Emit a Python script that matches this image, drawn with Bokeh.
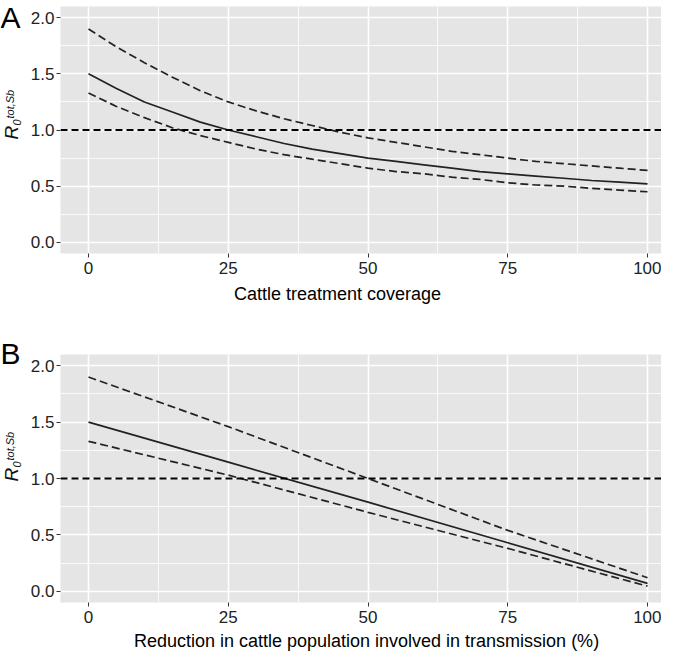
import math
from bokeh.plotting import figure
from bokeh.layouts import column, row
from bokeh.models import Range1d, FixedTicker, Span, PrintfTickFormatter
from bokeh.core.properties import value
from bokeh.embed import file_html
from bokeh.resources import INLINE

# ---------------- data ----------------
# Panel A: cattle treatment coverage
cov_x = [0, 5, 10, 15, 20, 25, 30, 35, 40, 45, 50, 55, 60, 65, 70, 75, 80, 85, 90, 95, 100]
cov_mid = [1.50, 1.37, 1.25, 1.16, 1.07, 1.00, 0.94, 0.88, 0.83, 0.79, 0.75,
           0.72, 0.69, 0.66, 0.63, 0.61, 0.59, 0.57, 0.55, 0.535, 0.52]
cov_upper = [1.90, 1.74, 1.60, 1.47, 1.35, 1.25, 1.17, 1.10, 1.04, 0.98, 0.93,
             0.89, 0.85, 0.81, 0.78, 0.75, 0.72, 0.70, 0.68, 0.66, 0.64]
cov_lower = [1.33, 1.21, 1.11, 1.02, 0.95, 0.89, 0.83, 0.78, 0.74, 0.70, 0.66,
             0.63, 0.61, 0.58, 0.56, 0.53, 0.51, 0.50, 0.48, 0.465, 0.45]

# Panel B: reduction in cattle population involved in transmission (%)
red_x = [0, 25, 50, 75, 100]
red_mid = [1.50, 1.145, 0.79, 0.43, 0.07]
red_upper = [1.90, 1.46, 1.00, 0.54, 0.12]
red_lower = [1.33, 1.03, 0.70, 0.38, 0.045]

threshold = 1.0
x_ticks = [0, 25, 50, 75, 100]
x_minor = [12.5, 37.5, 62.5, 87.5]
y_ticks = [0.0, 0.5, 1.0, 1.5, 2.0]
y_minor = [0.25, 0.75, 1.25, 1.75]

xlabel_A = "Cattle treatment coverage"
xlabel_B = "Reduction in cattle population involved in transmission (%)"

FONT = "Liberation Sans"
BG = "#E5E5E5"

W = 661          # total width
SW = 25          # left strip (panel letter + y label)
MW = W - SW      # main figure width
ML = 35          # main figure left border (tick labels)
X0, X1 = -5.01, 102.5
Y0, Y1 = -0.1, 2.1


def no_align(fig):
    if "frame_align" in fig.properties():
        fig.frame_align = False


def strip(w, h):
    s = figure(width=w, height=h, title=None, x_range=Range1d(0, w), y_range=Range1d(0, h),
               output_backend="svg", toolbar_location=None,
               x_axis_location=None, y_axis_location=None,
               min_border=0, min_border_left=0, min_border_right=0,
               min_border_top=0, min_border_bottom=0)
    s.grid.visible = False
    s.outline_line_color = None
    s.background_fill_color = "white"
    s.border_fill_color = "white"
    no_align(s)
    return s


def main_panel(height, top, frame_h, xs, mid, up, lo):
    bottom = height - top - frame_h
    p = figure(width=MW, height=height, title=None,
               x_range=Range1d(X0, X1), y_range=Range1d(Y0, Y1),
               output_backend="svg", toolbar_location=None,
               min_border_left=ML, min_border_right=0,
               min_border_top=top, min_border_bottom=bottom)
    no_align(p)
    p.background_fill_color = BG
    p.border_fill_color = "white"
    p.outline_line_color = None

    p.xgrid.ticker = FixedTicker(ticks=x_ticks, minor_ticks=x_minor)
    p.ygrid.ticker = FixedTicker(ticks=y_ticks, minor_ticks=y_minor)
    for g in (p.xgrid, p.ygrid):
        g.grid_line_color = "white"
        g.grid_line_width = 1.6
        g.minor_grid_line_color = "white"
        g.minor_grid_line_width = 0.8

    p.xaxis.ticker = FixedTicker(ticks=x_ticks)
    p.yaxis.ticker = FixedTicker(ticks=y_ticks)
    p.yaxis.formatter = PrintfTickFormatter(format="%.1f")
    for ax in (p.xaxis, p.yaxis):
        ax.axis_line_color = None
        ax.major_tick_line_color = "#333333"
        ax.major_tick_in = 0
        ax.major_tick_out = 4
        ax.minor_tick_out = 0
        ax.minor_tick_in = 0
        ax.major_label_text_font = FONT
        ax.major_label_text_font_size = "17px"
        ax.major_label_text_color = "#222222"
        ax.major_label_standoff = 2
    p.xaxis.major_label_standoff = 4

    p.add_layout(Span(location=threshold, dimension="width", line_color="black",
                      line_width=2, line_dash="7 4"))

    p.line(xs, up, line_color="#222222", line_width=1.7, line_dash="8 4")
    p.line(xs, lo, line_color="#222222", line_width=1.7, line_dash="8 4")
    p.line(xs, mid, line_color="#222222", line_width=1.7)
    return p


def left_strip(height, letter, letter_cy, r_start):
    s = strip(SW, height)
    Y = lambda py: height - py  # pixel (top-down) -> strip data
    s.text(x=[0], y=[Y(letter_cy)], text=[letter], text_font=value(FONT),
           text_font_size=value("30px"), text_color="black",
           text_align="left", text_baseline="middle")
    ang = math.pi / 2
    s.text(x=[10.5], y=[Y(r_start)], text=["R"], angle=ang, text_font=value(FONT),
           text_font_style="italic", text_font_size=value("19px"), text_color="#111111",
           text_align="left", text_baseline="middle")
    s.text(x=[16.5], y=[Y(r_start - 14)], text=["0"], angle=ang, text_font=value(FONT),
           text_font_style="italic", text_font_size=value("11px"), text_color="#111111",
           text_align="left", text_baseline="middle")
    s.text(x=[9], y=[Y(r_start - 21)], text=["tot,Sb"], angle=ang, text_font=value(FONT),
           text_font_style="italic", text_font_size=value("11px"), text_color="#111111",
           text_align="left", text_baseline="middle")
    return s


def label_strip(height, text, cx, cy):
    s = strip(W, height)
    s.text(x=[cx], y=[height - cy], text=[text], text_font=value(FONT),
           text_font_size=value("18px"), text_color="black",
           text_align="center", text_baseline="middle")
    return s


hA = 281
pA = main_panel(hA, 6, 247, cov_x, cov_mid, cov_upper, cov_lower)
lA = left_strip(hA, "A", 17, 139)
sA = label_strip(45, xlabel_A, 337, 12)

hB = 304
pB = main_panel(hB, 28, 248, red_x, red_mid, red_upper, red_lower)
lB = left_strip(hB, "B", 27, 155)
hS = 652 - hA - 45 - hB
sB = label_strip(hS, xlabel_B, 366, 10)

layout = column(row(lA, pA, spacing=0), sA, row(lB, pB, spacing=0), sB, spacing=0)
open("out.html", "w").write(file_html(layout, INLINE))
